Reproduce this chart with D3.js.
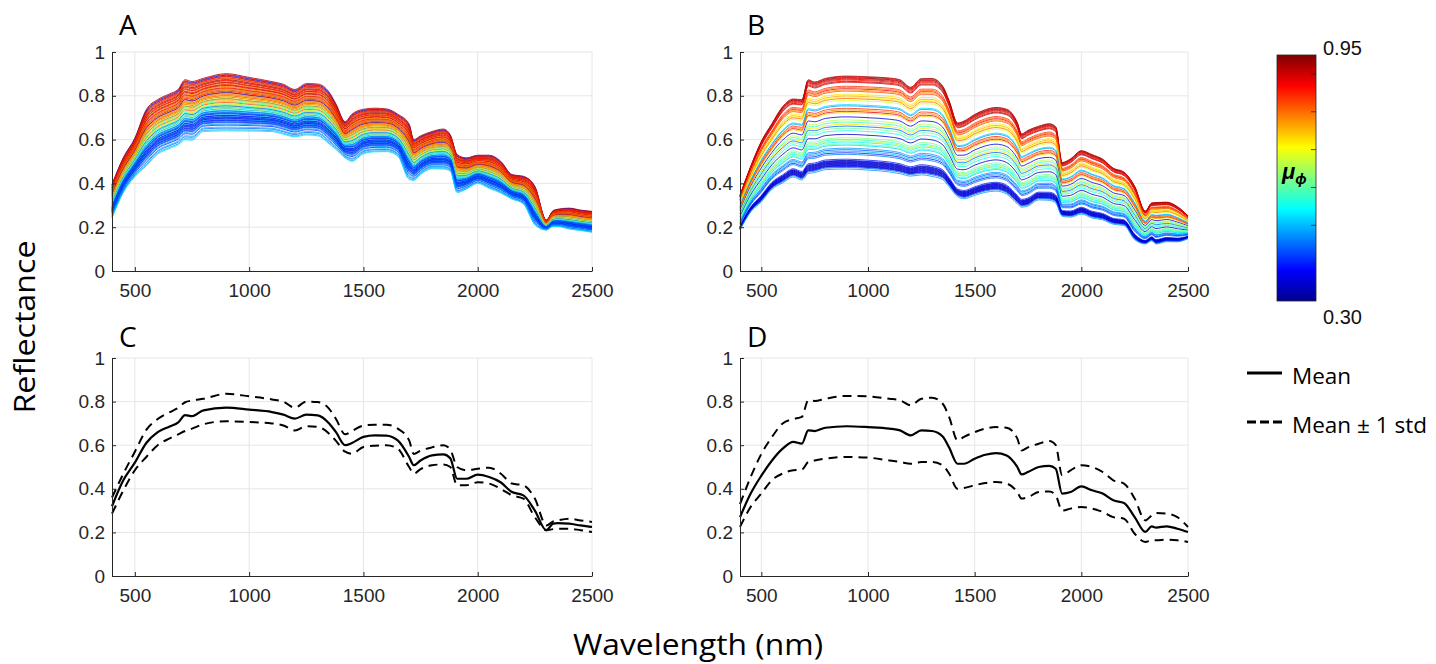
<!DOCTYPE html>
<html>
<head>
<meta charset="utf-8">
<script src="https://cdn.jsdelivr.net/npm/d3@7"></script>
<style>
body { margin: 0; background: #fff; }
svg text { font-family: "Liberation Sans", Arial, sans-serif; }
.big { font-family: "Open Sans", sans-serif !important; }
</style>
</head>
<body>
<script>
const W = 1436, H = 664

// wavelength grid (nm)
const wavelength = [400,450,500,550,600,650,690,720,750,800,900,1000,1100,1150,1200,1250,1300,1350,1380,1420,1450,1500,1550,1600,1650,1700,1720,1750,1800,1850,1880,1910,1950,2000,2050,2100,2150,2200,2250,2300,2330,2350,2400,2450,2500]

// panel C : mean and mean +/- 1 std of the spectra in A
const meanA  = [0.32,0.44,0.52,0.61,0.66,0.685,0.705,0.738,0.733,0.76,0.772,0.763,0.752,0.74,0.722,0.74,0.737,0.70,0.66,0.60,0.61,0.638,0.645,0.644,0.622,0.546,0.508,0.53,0.553,0.558,0.54,0.446,0.446,0.465,0.454,0.43,0.385,0.37,0.30,0.21,0.24,0.243,0.24,0.232,0.225]
const upperA = [0.36,0.47,0.57,0.67,0.72,0.75,0.772,0.797,0.805,0.813,0.836,0.824,0.81,0.80,0.772,0.80,0.798,0.767,0.72,0.65,0.665,0.69,0.694,0.694,0.676,0.622,0.56,0.575,0.59,0.60,0.58,0.50,0.485,0.492,0.497,0.47,0.424,0.416,0.355,0.232,0.25,0.255,0.263,0.255,0.248]
const lowerA = [0.286,0.393,0.485,0.546,0.60,0.63,0.65,0.665,0.676,0.696,0.71,0.706,0.70,0.69,0.668,0.687,0.684,0.653,0.62,0.57,0.561,0.592,0.598,0.60,0.584,0.50,0.47,0.49,0.508,0.512,0.50,0.416,0.416,0.43,0.424,0.40,0.37,0.355,0.27,0.21,0.215,0.217,0.217,0.21,0.202]

// panel D : mean and mean +/- 1 std of the spectra in B
const meanB  = [0.27,0.378,0.46,0.53,0.584,0.615,0.607,0.668,0.665,0.68,0.687,0.683,0.676,0.668,0.645,0.668,0.665,0.64,0.59,0.515,0.515,0.538,0.556,0.564,0.553,0.50,0.466,0.477,0.50,0.505,0.492,0.378,0.385,0.411,0.393,0.378,0.347,0.335,0.27,0.202,0.228,0.222,0.228,0.217,0.202]
const upperB = [0.33,0.454,0.56,0.638,0.70,0.72,0.73,0.806,0.803,0.813,0.826,0.824,0.813,0.806,0.783,0.813,0.818,0.79,0.73,0.622,0.638,0.66,0.676,0.683,0.68,0.63,0.576,0.59,0.607,0.619,0.60,0.462,0.485,0.508,0.50,0.477,0.439,0.424,0.355,0.255,0.278,0.289,0.286,0.27,0.225]
const lowerB = [0.225,0.317,0.378,0.44,0.47,0.485,0.488,0.523,0.53,0.538,0.546,0.543,0.53,0.523,0.515,0.523,0.523,0.508,0.47,0.40,0.404,0.416,0.427,0.431,0.424,0.385,0.355,0.362,0.385,0.388,0.37,0.30,0.309,0.317,0.309,0.294,0.27,0.263,0.194,0.156,0.164,0.164,0.167,0.164,0.156]

// panel A : each spectrum, its offset from the mean in std units and its mu_phi
const zA  = [2.05,1.98,1.93,1.86,1.82,1.74,1.7,1.62,1.57,1.52,1.44,1.41,1.36,1.28,1.25,1.19,1.12,1.09,1.02,0.98,0.93,0.85,0.82,0.77,0.7,0.66,0.6,0.52,0.5,0.44,
             0.38,0.35,0.27,0.22,0.2,0.12,0.06,0.03,-0.04,-0.12,-0.15,-0.22,-0.3,-0.33,-0.4,-0.47,-0.5,-0.58,-0.63,-0.66,
             -0.72,-0.78,-0.8,-0.86,-0.92,-0.97,-1.0,-1.06,-1.1,-1.13,-1.18,-1.22,-1.25,-1.3,-1.34,-1.38,-1.45,-1.5,-1.6,-1.68,-1.82,-1.9,-2.02,-2.1]
const muA = [0.93,0.88,0.40,0.92,0.86,0.90,0.82,0.95,0.85,0.88,0.80,0.91,0.84,0.78,0.87,0.92,0.82,0.76,0.89,0.84,0.80,0.93,0.74,0.86,0.82,0.35,0.78,0.88,0.72,0.84,
             0.70,0.80,0.66,0.90,0.62,0.76,0.68,0.58,0.82,0.64,0.72,0.55,0.34,0.60,0.52,0.70,0.50,0.57,0.48,0.45,
             0.50,0.40,0.46,0.36,0.52,0.42,0.38,0.47,0.33,0.44,0.40,0.36,0.50,0.42,0.37,0.46,0.39,0.44,0.48,0.41,0.50,0.45,0.49,0.52]

// panel B
const zB  = [1.45,1.43,1.40,1.38,1.35,1.32,1.28,1.25,
             1.12,1.08,1.04,1.0,0.96,
             0.86,0.8,0.76,0.72,0.66,
             0.52,0.48,
             0.4,0.35,0.3,0.26,
             0.12,
             0.02,-0.05,-0.12,-0.18,-0.25,-0.33,
             -0.45,
             -0.56,-0.62,-0.66,-0.7,-0.76,-0.8,
             -0.9,-0.95,-1.0,-1.05,-1.1,
             -1.26,-1.3,-1.32,-1.34,-1.36,-1.38,-1.4,-1.42,-1.44,-1.46,-1.48,-1.5,-1.53,-1.58]
const muB = [0.93,0.90,0.95,0.88,0.91,0.86,0.92,0.89,
             0.84,0.80,0.87,0.78,0.82,
             0.72,0.76,0.70,0.80,0.68,
             0.52,0.48,
             0.84,0.78,0.88,0.74,
             0.36,
             0.66,0.58,0.72,0.45,0.62,0.55,
             0.34,
             0.62,0.58,0.66,0.55,0.60,0.52,
             0.48,0.44,0.50,0.40,0.46,
             0.40,0.36,0.33,0.38,0.35,0.32,0.36,0.34,0.37,0.35,0.33,0.38,0.45,0.48]

const xTicks = [500, 1000, 1500, 2000, 2500]
const yTicks = [0, 0.2, 0.4, 0.6, 0.8, 1]
const muRange = [0.30, 0.95]
const cbTicks = [0.4, 0.5, 0.6, 0.7, 0.8, 0.9]

// MATLAB jet colormap
const jetStops = [0, 0.125, 0.375, 0.625, 0.875, 1]
const jetColors = ['#00008f', '#0000ff', '#00ffff', '#ffff00', '#ff0000', '#800000']
const jet = d3.scaleLinear()
    .domain(jetStops.map(t => muRange[0] + t * (muRange[1] - muRange[0])))
    .range(jetColors)
    .clamp(true)

const svg = d3.select('body')
    .append('svg')
    .attr('width', W)
    .attr('height', H)

const panels = [
    { id: 'A', left: 112, right: 592, top: 52, bottom: 271 },
    { id: 'B', left: 740, right: 1188, top: 52, bottom: 271 },
    { id: 'C', left: 112, right: 592, top: 358, bottom: 576 },
    { id: 'D', left: 740, right: 1188, top: 358, bottom: 576 }
]

const spectra = (mean, upper, lower, zs, mus) => zs.map((z, i) => ({
    mu: mus[i],
    values: mean.map((m, j) => m + z * (upper[j] - lower[j]) / 2)
}))

const content = {
    A: { lines: spectra(meanA, upperA, lowerA, zA, muA) },
    B: { lines: spectra(meanB, upperB, lowerB, zB, muB) },
    C: { mean: meanA, upper: upperA, lower: lowerA },
    D: { mean: meanB, upper: upperB, lower: lowerB }
}

panels.forEach(p => {
    const x = d3.scaleLinear().domain([400, 2500]).range([p.left, p.right])
    const y = d3.scaleLinear().domain([0, 1]).range([p.bottom, p.top])
    const g = svg.append('g').attr('id', 'panel-' + p.id)

    // grid
    g.selectAll('.vgrid').data(xTicks).enter().append('line')
        .attr('x1', d => x(d)).attr('x2', d => x(d))
        .attr('y1', p.top).attr('y2', p.bottom)
        .attr('stroke', '#e6e6e6').attr('stroke-width', 1)
    g.selectAll('.hgrid').data(yTicks.slice(1)).enter().append('line')
        .attr('x1', p.left).attr('x2', p.right)
        .attr('y1', d => y(d)).attr('y2', d => y(d))
        .attr('stroke', '#e6e6e6').attr('stroke-width', 1)

    const line = d3.line()
        .x((d, i) => x(wavelength[i]))
        .y(d => y(d))
        .curve(d3.curveMonotoneX)

    const c = content[p.id]
    if (c.lines) {
        g.selectAll('.spec').data(c.lines).enter().append('path')
            .attr('d', d => line(d.values))
            .attr('fill', 'none')
            .attr('stroke', d => jet(d.mu))
            .attr('stroke-width', 0.8)
    } else {
        [c.upper, c.lower].forEach(v => {
            g.append('path').attr('d', line(v))
                .attr('fill', 'none').attr('stroke', '#000')
                .attr('stroke-width', 2).attr('stroke-dasharray', '9,6')
        })
        g.append('path').attr('d', line(c.mean))
            .attr('fill', 'none').attr('stroke', '#000').attr('stroke-width', 2.2)
    }

    const xAxis = g.append('g')
        .attr('transform', 'translate(0,' + p.bottom + ')')
        .call(d3.axisBottom(x).tickValues(xTicks).tickFormat(d3.format('d')).tickSizeInner(-4).tickSizeOuter(0).tickPadding(13))
    const yAxis = g.append('g')
        .attr('transform', 'translate(' + p.left + ',0)')
        .call(d3.axisLeft(y).tickValues(yTicks).tickFormat(d3.format('')).tickSizeInner(-4).tickSizeOuter(0).tickPadding(7))
    ;[xAxis, yAxis].forEach(a => {
        a.select('.domain').attr('stroke', '#262626')
        a.selectAll('.tick line').attr('stroke', '#262626')
        a.selectAll('.tick text').attr('fill', '#262626').style('font-size', '19px')
    })

    svg.append('text')
        .attr('class', 'big')
        .attr('x', p.left + 7)
        .attr('y', p.top - 17 + (p.id > 'B' ? 6 : 0))
        .style('font-size', '28px')
        .text(p.id)
})

// colorbar
const cb = { left: 1277, right: 1316, top: 55, bottom: 301 }
const cy = d3.scaleLinear().domain(muRange).range([cb.bottom, cb.top])
const grad = svg.append('defs').append('linearGradient')
    .attr('id', 'jet').attr('x1', 0).attr('y1', 1).attr('x2', 0).attr('y2', 0)
grad.selectAll('stop').data(jetStops).enter().append('stop')
    .attr('offset', d => d)
    .attr('stop-color', (d, i) => jetColors[i])
svg.append('rect')
    .attr('x', cb.left).attr('y', cb.top)
    .attr('width', cb.right - cb.left).attr('height', cb.bottom - cb.top)
    .attr('fill', 'url(#jet)').attr('stroke', '#262626').attr('stroke-width', 0.8)
svg.selectAll('.cbtick').data(cbTicks).enter().append('line')
    .attr('x1', cb.right - 5).attr('x2', cb.right)
    .attr('y1', d => cy(d)).attr('y2', d => cy(d))
    .attr('stroke', '#262626').attr('stroke-width', 0.8)
svg.append('text').attr('x', 1323).attr('y', cy(muRange[1]))
    .style('font-size', '20px').attr('fill', '#111').text(muRange[1].toFixed(2))
svg.append('text').attr('x', 1323).attr('y', cy(muRange[0]) + 23)
    .style('font-size', '20px').attr('fill', '#111').text(muRange[0].toFixed(2))
const muLabel = svg.append('text').attr('x', 1282).attr('y', 179)
    .style('font-size', '22px').style('font-style', 'italic').style('font-weight', 'bold')
muLabel.append('tspan').text('μ')
muLabel.append('tspan').attr('dy', 5).style('font-size', '15px').text('ϕ')

// legend
const legendItems = [
    { label: 'Mean', dash: null, y: 373 },
    { label: 'Mean ± 1 std', dash: '9,4', y: 422 }
]
const lg = svg.selectAll('.legend').data(legendItems).enter().append('g')
lg.append('line')
    .attr('x1', 1247).attr('x2', 1282)
    .attr('y1', d => d.y).attr('y2', d => d.y)
    .attr('stroke', '#000').attr('stroke-width', 3)
    .attr('stroke-dasharray', d => d.dash)
lg.append('text')
    .attr('class', 'big')
    .attr('x', 1292).attr('y', d => d.y + 11)
    .style('font-size', '22.5px')
    .text(d => d.label)

// axis titles
svg.append('text')
    .attr('class', 'big')
    .attr('transform', 'translate(35,327) rotate(-90)')
    .attr('text-anchor', 'middle')
    .attr('textLength', 173).attr('lengthAdjust', 'spacingAndGlyphs')
    .style('font-size', '30px')
    .text('Reflectance')
svg.append('text')
    .attr('class', 'big')
    .attr('x', 698).attr('y', 655)
    .attr('text-anchor', 'middle')
    .attr('textLength', 250).attr('lengthAdjust', 'spacingAndGlyphs')
    .style('font-size', '30px')
    .text('Wavelength (nm)')
</script>
</body>
</html>
